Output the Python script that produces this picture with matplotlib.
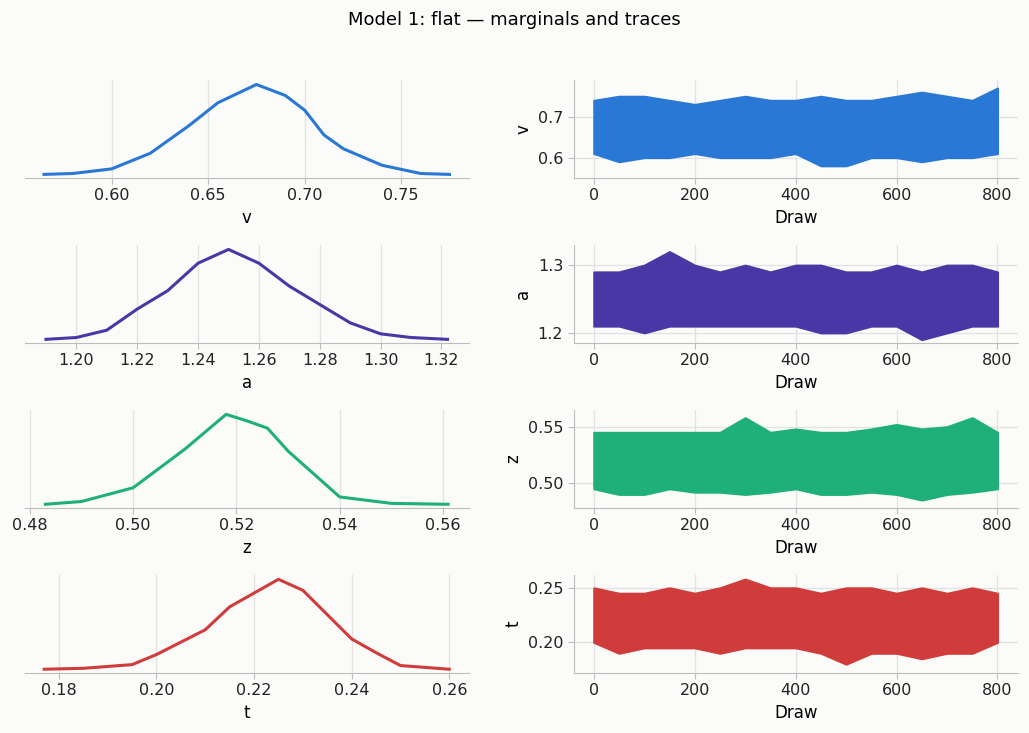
import matplotlib
matplotlib.use("Agg")
import matplotlib.pyplot as plt

params = ["v", "a", "z", "t"]
colors = ["#2a78d6", "#4a37a6", "#1fb07a", "#d03b3b"]

# marginal density shapes (peak normalised to 1)
kde_x = {
    "v": [0.565, 0.58, 0.60, 0.62, 0.64, 0.655, 0.675, 0.69, 0.70, 0.71, 0.72, 0.74, 0.76, 0.775],
    "a": [1.19, 1.20, 1.21, 1.22, 1.23, 1.24, 1.25, 1.26, 1.27, 1.28, 1.29, 1.30, 1.31, 1.322],
    "z": [0.483, 0.49, 0.50, 0.51, 0.518, 0.522, 0.526, 0.53, 0.54, 0.55, 0.561],
    "t": [0.177, 0.185, 0.195, 0.20, 0.21, 0.215, 0.225, 0.23, 0.24, 0.245, 0.25, 0.26],
}
kde_y = {
    "v": [0.02, 0.03, 0.08, 0.25, 0.55, 0.8, 1.0, 0.88, 0.72, 0.45, 0.3, 0.12, 0.03, 0.02],
    "a": [0.02, 0.04, 0.12, 0.35, 0.55, 0.85, 1.0, 0.85, 0.6, 0.4, 0.2, 0.08, 0.04, 0.02],
    "z": [0.02, 0.05, 0.2, 0.62, 1.0, 0.93, 0.85, 0.6, 0.1, 0.03, 0.02],
    "t": [0.02, 0.03, 0.07, 0.18, 0.45, 0.7, 1.0, 0.88, 0.35, 0.2, 0.06, 0.02],
}
kde_xlim = {"v": (0.555, 0.785), "a": (1.183, 1.329), "z": (0.479, 0.565), "t": (0.173, 0.264)}

# trace envelopes (lowest / highest draw) read every 50 draws
draws = [0, 50, 100, 150, 200, 250, 300, 350, 400, 450, 500, 550, 600, 650, 700, 750, 800]
trace_lo = {
    "v": [0.61, 0.59, 0.60, 0.60, 0.61, 0.60, 0.60, 0.60, 0.61, 0.58, 0.58, 0.60, 0.60, 0.59, 0.60, 0.60, 0.61],
    "a": [1.21, 1.21, 1.20, 1.21, 1.21, 1.21, 1.21, 1.21, 1.21, 1.20, 1.20, 1.21, 1.21, 1.19, 1.20, 1.21, 1.21],
    "z": [0.495, 0.49, 0.49, 0.495, 0.492, 0.492, 0.49, 0.492, 0.495, 0.49, 0.49, 0.492, 0.49, 0.485, 0.49, 0.492, 0.495],
    "t": [0.20, 0.19, 0.195, 0.195, 0.195, 0.19, 0.195, 0.195, 0.195, 0.19, 0.18, 0.19, 0.19, 0.185, 0.19, 0.19, 0.20],
}
trace_hi = {
    "v": [0.74, 0.75, 0.75, 0.74, 0.73, 0.74, 0.75, 0.74, 0.74, 0.75, 0.74, 0.74, 0.75, 0.76, 0.75, 0.74, 0.77],
    "a": [1.29, 1.29, 1.30, 1.32, 1.30, 1.29, 1.30, 1.29, 1.30, 1.30, 1.29, 1.29, 1.30, 1.29, 1.30, 1.30, 1.29],
    "z": [0.545, 0.545, 0.545, 0.545, 0.545, 0.545, 0.558, 0.545, 0.548, 0.545, 0.545, 0.548, 0.552, 0.548, 0.55, 0.558, 0.545],
    "t": [0.25, 0.245, 0.245, 0.25, 0.245, 0.25, 0.258, 0.25, 0.25, 0.245, 0.25, 0.25, 0.245, 0.25, 0.245, 0.25, 0.245],
}
trace_ylim = {"v": (0.55, 0.79), "a": (1.185, 1.33), "z": (0.478, 0.565), "t": (0.172, 0.262)}
kde_ticks = {
    "v": [0.60, 0.65, 0.70, 0.75],
    "a": [1.20, 1.22, 1.24, 1.26, 1.28, 1.30, 1.32],
    "z": [0.48, 0.50, 0.52, 0.54, 0.56],
    "t": [0.18, 0.20, 0.22, 0.24, 0.26],
}
trace_ticks = {"v": [0.6, 0.7], "a": [1.2, 1.3], "z": [0.50, 0.55], "t": [0.20, 0.25]}
trace_fmt = {"v": "{:.1f}", "a": "{:.1f}", "z": "{:.2f}", "t": "{:.2f}"}
kde_fmt = {"v": "{:.2f}", "a": "{:.2f}", "z": "{:.2f}", "t": "{:.2f}"}

bg = "#fbfbf9"
spine_c = "#bdbdbd"
grid_c = "#e2e2e2"

fig, axes = plt.subplots(4, 2, figsize=(10.29, 7.33), dpi=100, facecolor=bg)
fig.subplots_adjust(left=0.024, right=0.989, top=0.891, bottom=0.082, hspace=0.68, wspace=0.236)
fig.suptitle("Model 1: flat — marginals and traces", fontsize=13, y=0.985)

for i, p in enumerate(params):
    c = colors[i]
    ax = axes[i, 0]
    ax.set_facecolor(bg)
    ax.plot(kde_x[p], kde_y[p], color=c, lw=2.2)
    ax.set_xlim(*kde_xlim[p])
    ax.set_ylim(-0.02, 1.05)
    ax.set_yticks([])
    ax.set_xticks(kde_ticks[p])
    ax.set_xticklabels([kde_fmt[p].format(t) for t in kde_ticks[p]])
    ax.grid(axis="x", color=grid_c, lw=0.9)
    ax.set_axisbelow(True)
    for s in ["top", "right", "left"]:
        ax.spines[s].set_visible(False)
    ax.spines["bottom"].set_color(spine_c)
    ax.tick_params(colors="#222222", labelsize=11.5, length=4, color=spine_c)
    ax.set_xlabel(p, fontsize=12)

    ax = axes[i, 1]
    ax.set_facecolor(bg)
    ax.fill_between(draws, trace_lo[p], trace_hi[p], color=c, lw=1.5, edgecolor=c)
    ax.set_xlim(-40, 840)
    ax.set_ylim(*trace_ylim[p])
    ax.set_xticks([0, 200, 400, 600, 800])
    ax.set_yticks(trace_ticks[p])
    ax.set_yticklabels([trace_fmt[p].format(t) for t in trace_ticks[p]])
    ax.grid(color=grid_c, lw=0.9)
    ax.set_axisbelow(True)
    for s in ["top", "right"]:
        ax.spines[s].set_visible(False)
    ax.spines["bottom"].set_color(spine_c)
    ax.spines["left"].set_color(spine_c)
    ax.tick_params(colors="#222222", labelsize=11.5, length=4, color=spine_c)
    ax.set_xlabel("Draw", fontsize=12)
    ax.set_ylabel(p, fontsize=12)

fig.savefig("out.png", facecolor=bg)
